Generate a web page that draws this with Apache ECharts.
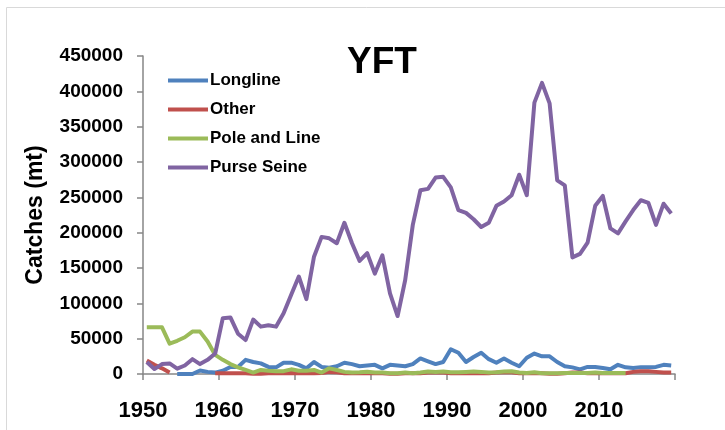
<!DOCTYPE html>
<html>
<head>
<meta charset="utf-8">
<script src="https://cdn.jsdelivr.net/npm/echarts@6/dist/echarts.min.js"></script>
<style>
    html, body { margin: 0; padding: 0; background: #fff; }
    .chart { width: 725px; height: 430px; }
</style>
</head>
<body>
<div class="chart"></div>
<script>
// years 1950 - 2019
var years = [];
for (var y = 1950; y <= 2019; y++) { years.push(y); }

var seriesNames = ['Longline', 'Other', 'Pole and Line', 'Purse Seine'];
var colors = ['#4F81BD', '#C0504D', '#9BBB59', '#8064A2'];
var yTicks = [0, 50000, 100000, 150000, 200000, 250000, 300000, 350000, 400000, 450000];
var xTicks = [1950, 1960, 1970, 1980, 1990, 2000, 2010];

var longline = [
    null, null, null, null, 0, 0, 0, 5000, 3000, 2000,
    4700, 10000, 10000, 20000, 17000, 15000, 10000, 9400, 16000, 16000,
    13000, 8000, 17000, 10000, 9000, 11000, 16000, 14000, 11000, 12000,
    13000, 8000, 13000, 12000, 11000, 14000, 22000, 18000, 14000, 17000,
    35000, 30000, 17000, 24000, 30000, 21000, 16000, 22000, 16000, 11000,
    23000, 29000, 25000, 25000, 17000, 11000, 9400, 6600, 10000, 10000,
    8500, 6600, 13000, 9400, 8500, 9400, 9400, 10000, 13000, 12000
];
var other = [
    19000, 13000, 8000, 2000, null, null, null, null, null, 1000,
    1000, 1000, 1000, 1000, 500, 500, 1000, 1000, 1000, 1500,
    1000, 1000, 1000, 1500, 3000, 2500, 1000, 1000, 1000, 1000,
    1000, 1000, 500, 500, 1000, 1000, 1000, 2000, 2000, 2000,
    1000, 1000, 1000, 1000, 1000, 1000, 2000, 2500, 2500, 1000,
    1000, 1000, 1000, 500, 500, 1000, 2000, 2000, 1000, 1000,
    1000, 1000, 1000, 1000, 3000, 4000, 4000, 3000, 2000, 2000
];
var poleLine = [
    66000, 66000, 66000, 43000, 47000, 52000, 60000, 60000, 46000, 27000,
    20000, 14000, 9400, 5700, 2000, 5700, 4700, 4000, 4000, 6600,
    4700, 4700, 5700, 2000, 8000, 5700, 3000, 2000, 2500, 3300,
    2000, 2000, 1000, 1000, 2000, 1000, 2000, 3500, 3000, 3500,
    2500, 2500, 3000, 3500, 3000, 2000, 2500, 3500, 4000, 2000,
    1500, 2500, 1000, 1000, 1000, 1500, 1500, 1500, 1500, 2000,
    1500, 1500, 1500, 1500, null, null, null, null, null, null
];
var purseSeine = [
    17000, 7000, 14000, 15000, 7500, 12000, 21000, 14000, 20000, 29000,
    79000, 80000, 57000, 48000, 77000, 67000, 69000, 67000, 86000, 112000,
    138000, 106000, 166000, 194000, 192000, 185000, 214000, 185000, 160000, 171000,
    142000, 168000, 114000, 82000, 133000, 211000, 260000, 262000, 278000, 279000,
    264000, 232000, 228000, 219000, 208000, 214000, 238000, 244000, 253000, 282000,
    253000, 384000, 412000, 383000, 274000, 267000, 165000, 170000, 186000, 238000,
    252000, 206000, 199000, 216000, 232000, 246000, 242000, 211000, 241000, 227000
];

(function() {
    var font = "'Liberation Sans', Arial, sans-serif";
    var myChart = echarts.init(document.querySelector('.chart'));

    // points sit in the middle of each year
    function pairs(values) {
        return values.map(function(v, i) {
            return [years[i] + 0.5, v];
        });
    }

    var allData = [longline, other, poleLine, purseSeine];
    var series = allData.map(function(d, i) {
        return {
            name: seriesNames[i],
            type: 'line',
            data: pairs(d),
            showSymbol: false,
            symbol: 'none',
            connectNulls: false,
            lineStyle: { width: 4, color: colors[i], join: 'round' },
            itemStyle: { color: colors[i] },
            z: 2 + i
        };
    });

    var option = {
        animation: false,
        title: {
            text: 'YFT',
            left: 377,
            top: 39,
            textAlign: 'center',
            textStyle: { fontFamily: font, fontWeight: 'bold', fontSize: 37, color: '#000' }
        },
        legend: {
            orient: 'vertical',
            left: 163,
            top: 67,
            icon: 'rect',
            itemWidth: 40,
            itemHeight: 4,
            itemGap: 12,
            textStyle: { fontFamily: font, fontWeight: 'bold', fontSize: 17, color: '#000', padding: [0, 0, 0, -3] },
            data: seriesNames
        },
        grid: { left: 143, right: 50, top: 56, bottom: 56 },
        xAxis: {
            type: 'value',
            min: 1950,
            max: 2020,
            interval: 10,
            axisLine: { lineStyle: { color: '#868686', width: 1.5 } },
            axisTick: { show: true, length: 6, lineStyle: { color: '#868686', width: 1.5 } },
            splitLine: { show: false },
            axisLabel: {
                margin: 26,
                fontFamily: font,
                fontWeight: 'bold',
                fontSize: 22,
                color: '#000',
                formatter: function(v) {
                    return xTicks.indexOf(v) >= 0 ? String(v) : '';
                }
            }
        },
        yAxis: {
            type: 'value',
            min: yTicks[0],
            max: yTicks[yTicks.length - 1],
            interval: 50000,
            name: 'Catches (mt)',
            nameLocation: 'middle',
            nameGap: 96,
            nameTextStyle: { fontFamily: font, fontWeight: 'bold', fontSize: 23, color: '#000' },
            axisLine: { show: true, lineStyle: { color: '#868686', width: 1.5 } },
            axisTick: { show: true, length: 6, lineStyle: { color: '#868686', width: 1.5 } },
            splitLine: { show: false },
            axisLabel: {
                margin: 20,
                fontFamily: font,
                fontWeight: 'bold',
                fontSize: 19,
                color: '#000',
                formatter: function(v) { return String(v); }
            }
        },
        graphic: [{
            type: 'rect',
            shape: { x: 6.5, y: 7.5, width: 900, height: 600 },
            style: { fill: 'none', stroke: '#d9d9d9', lineWidth: 1 },
            silent: true
        }],
        series: series
    };

    myChart.setOption(option);
    window.addEventListener('resize', function() {
        myChart.resize();
    });
})();
</script>
</body>
</html>
